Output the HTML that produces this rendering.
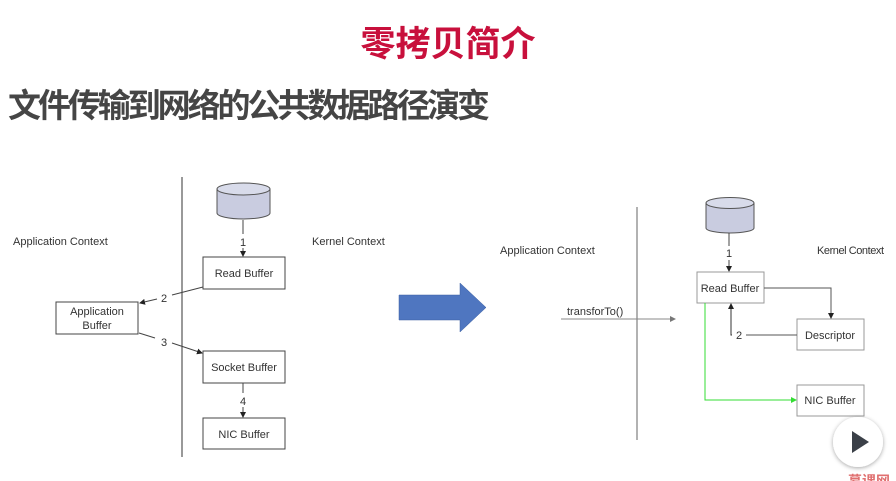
<!DOCTYPE html>
<html><head><meta charset="utf-8"><style>
html,body{margin:0;padding:0;background:#fff;width:896px;height:481px;overflow:hidden}
svg text{font-family:"Liberation Sans","DejaVu Sans",sans-serif}
.cjk{font-family:"Liberation Sans","Noto Sans CJK SC",sans-serif;font-weight:bold}
</style></head><body>
<svg width="896" height="481" viewBox="0 0 896 481" xmlns="http://www.w3.org/2000/svg">
<defs>
<marker id="a" markerWidth="6" markerHeight="6" refX="5" refY="3" orient="auto"><path d="M0,0 L6,3 L0,6z" fill="#222"/></marker>
<marker id="g" markerWidth="6" markerHeight="6" refX="5" refY="3" orient="auto"><path d="M0,0 L6,3 L0,6z" fill="#777"/></marker>
<marker id="gr" markerWidth="6" markerHeight="6" refX="5" refY="3" orient="auto"><path d="M0,0 L6,3 L0,6z" fill="#3d3"/></marker>
<filter id="sh"><feDropShadow dx="0" dy="1" stdDeviation="2" flood-opacity="0.35"/></filter>
</defs>
<text class="cjk" x="448" y="56" font-size="35" fill="#c8103c" text-anchor="middle">零拷贝简介</text>
<text class="cjk" x="8" y="117" font-size="33" fill="#454545" textLength="482">文件传输到网络的公共数据路径演变</text>

<g font-size="11" fill="#333">
<line x1="182" y1="177" x2="182" y2="457" stroke="#333" stroke-width="1"/>
<path d="M217,189 v24 a26.5,6 0 0 0 53,0 v-24" fill="#c9cce0" stroke="#555"/>
<ellipse cx="243.5" cy="189" rx="26.5" ry="6" fill="#d8dbea" stroke="#555"/>
<line x1="243" y1="220" x2="243" y2="234" stroke="#444"/>
<line x1="243" y1="248" x2="243" y2="256" stroke="#444" marker-end="url(#a)"/>
<text x="243" y="246" text-anchor="middle">1</text>
<rect x="203" y="257" width="82" height="32" fill="#fff" stroke="#444"/>
<text x="244" y="277" text-anchor="middle">Read Buffer</text>
<rect x="56" y="302" width="82" height="32" fill="#fff" stroke="#444"/>
<text x="97" y="315" text-anchor="middle">Application</text>
<text x="97" y="329" text-anchor="middle">Buffer</text>
<line x1="203" y1="287" x2="172" y2="295" stroke="#444"/>
<line x1="157" y1="299" x2="140" y2="303" stroke="#444" marker-end="url(#a)"/>
<text x="164" y="302" text-anchor="middle">2</text>
<line x1="139" y1="333" x2="155" y2="338" stroke="#444"/>
<line x1="172" y1="343" x2="202" y2="353" stroke="#444" marker-end="url(#a)"/>
<text x="164" y="346" text-anchor="middle">3</text>
<rect x="203" y="351" width="82" height="32" fill="#fff" stroke="#444"/>
<text x="244" y="371" text-anchor="middle">Socket Buffer</text>
<line x1="243" y1="383" x2="243" y2="393" stroke="#444"/>
<line x1="243" y1="407" x2="243" y2="417" stroke="#444" marker-end="url(#a)"/>
<text x="243" y="405" text-anchor="middle">4</text>
<rect x="203" y="418" width="82" height="31" fill="#fff" stroke="#444"/>
<text x="244" y="438" text-anchor="middle">NIC Buffer</text>
<text x="13" y="245">Application Context</text>
<text x="312" y="245">Kernel Context</text>

<path d="M399,295 H460 V283 L486,307.5 L460,332 V320 H399 Z" fill="#4f76c0" stroke="#3a5ea0" stroke-width="0.5"/>

<line x1="637" y1="207" x2="637" y2="440" stroke="#666"/>
<text x="500" y="254">Application Context</text>
<text x="817" y="254" textLength="67">Kernel Context</text>
<path d="M706,203 v25 a24,5 0 0 0 48,0 v-25" fill="#c9cce0" stroke="#555"/>
<ellipse cx="730" cy="203" rx="24" ry="5.5" fill="#d8dbea" stroke="#555"/>
<line x1="729" y1="233" x2="729" y2="246" stroke="#444"/>
<line x1="729" y1="260" x2="729" y2="271" stroke="#444" marker-end="url(#a)"/>
<text x="729" y="257" text-anchor="middle">1</text>
<rect x="697" y="272" width="67" height="31" fill="#fff" stroke="#999"/>
<text x="730" y="292" text-anchor="middle">Read Buffer</text>
<rect x="797" y="319" width="67" height="31" fill="#fff" stroke="#999"/>
<text x="830" y="339" text-anchor="middle">Descriptor</text>
<rect x="797" y="385" width="67" height="31" fill="#fff" stroke="#999"/>
<text x="830" y="404" text-anchor="middle">NIC Buffer</text>
<path d="M764,288 H831 V318" fill="none" stroke="#555" marker-end="url(#a)"/>
<line x1="797" y1="335" x2="746" y2="335" stroke="#555"/>
<text x="739" y="339" text-anchor="middle">2</text>
<path d="M732,335 H731 V304" fill="none" stroke="#333" marker-end="url(#a)"/>
<path d="M705,303 V400 H796" fill="none" stroke="#3d3" marker-end="url(#gr)"/>
<text x="567" y="315">transforTo()</text>
<line x1="561" y1="319" x2="675" y2="319" stroke="#888" marker-end="url(#g)"/>
</g>

<circle cx="858" cy="442" r="25" fill="#fff" filter="url(#sh)"/>
<path d="M852,431 L869,442 L852,453 Z" fill="#3b4048"/>
<text x="848" y="486" font-size="14" fill="#e07070" class="cjk">慕课网</text>
</svg>
</body></html>
